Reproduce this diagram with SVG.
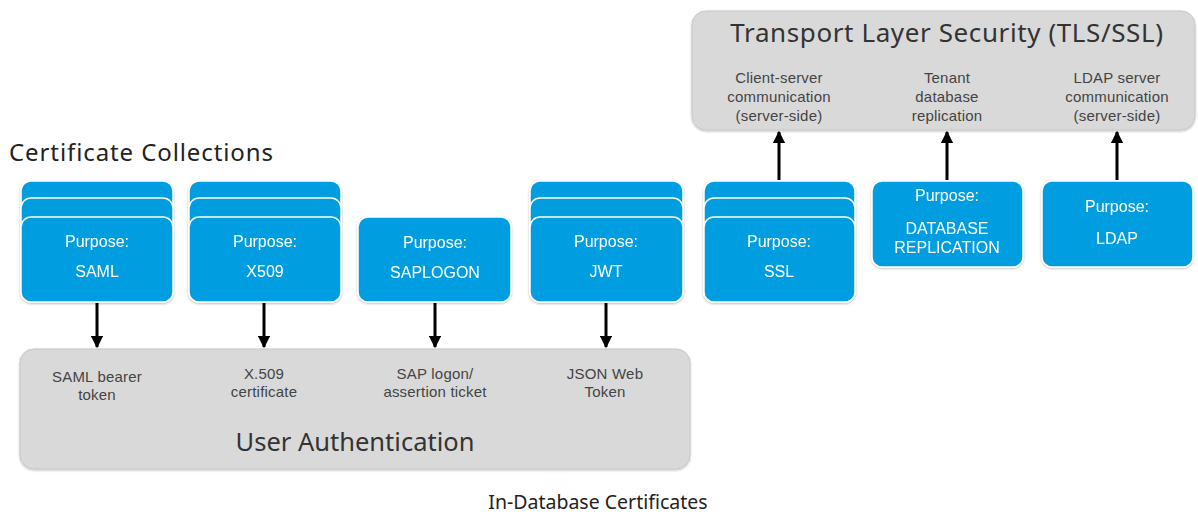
<svg xmlns="http://www.w3.org/2000/svg" width="1198" height="515" viewBox="0 0 1198 515">
<defs>
<marker id="ah" viewBox="0 0 10 10" refX="9" refY="5" markerWidth="4.2" markerHeight="4.2" orient="auto" markerUnits="strokeWidth">
<path d="M0,0 L10,5 L0,10 z" fill="#000"/>
</marker>
<filter id="sh" x="-10%" y="-10%" width="120%" height="125%">
<feDropShadow dx="0" dy="1" stdDeviation="1" flood-color="#000" flood-opacity="0.25"/>
</filter>
</defs>
<style>
.grp{fill:#d9d9d9;stroke:#c6c6c6;stroke-width:1}
.blue{fill:#009de0;stroke:#ffffff;stroke-width:1.5}
.bt{font-family:"Liberation Sans",Arial,sans-serif;font-size:16px;fill:#ffffff;text-anchor:middle}
.gt{font-family:"Liberation Sans",Arial,sans-serif;font-size:15px;fill:#444;text-anchor:middle;letter-spacing:0.2px}
.big{font-family:"Noto Sans","Liberation Sans",sans-serif;fill:#333;text-anchor:middle}
.cap{font-family:"Noto Sans","Liberation Sans",sans-serif;fill:#222}
.conn{stroke:#000;stroke-width:3;fill:none}
</style>

<g id="tls">
<rect class="grp" x="692" y="11" width="503" height="119" rx="14" filter="url(#sh)"/>
<text class="big" x="947" y="42" font-size="26" letter-spacing="0.6">Transport Layer Security (TLS/SSL)</text>
<text class="gt" x="779" y="83">Client-server</text>
<text class="gt" x="779" y="102">communication</text>
<text class="gt" x="779" y="121">(server-side)</text>
<text class="gt" x="947" y="83">Tenant</text>
<text class="gt" x="947" y="102">database</text>
<text class="gt" x="947" y="121">replication</text>
<text class="gt" x="1117" y="83">LDAP server</text>
<text class="gt" x="1117" y="102">communication</text>
<text class="gt" x="1117" y="121">(server-side)</text>
</g>

<g id="userauth">
<rect class="grp" x="20" y="349" width="670" height="120" rx="14" filter="url(#sh)"/>
<text class="gt" x="97" y="382">SAML bearer</text>
<text class="gt" x="97" y="400">token</text>
<text class="gt" x="264" y="379">X.509</text>
<text class="gt" x="264" y="397">certificate</text>
<text class="gt" x="435" y="379">SAP logon/</text>
<text class="gt" x="435" y="397">assertion ticket</text>
<text class="gt" x="605" y="379">JSON Web</text>
<text class="gt" x="605" y="397">Token</text>
<text class="big" x="355" y="451" font-size="25.5">User Authentication</text>
</g>

<text id="title-collections" class="cap" x="9" y="161" font-size="24" letter-spacing="0.9">Certificate Collections</text>
<text id="caption" class="cap" x="598" y="509" font-size="19.5" text-anchor="middle">In-Database Certificates</text>

<g id="saml" filter="url(#sh)">
<rect class="blue" x="21" y="181" width="152" height="121" rx="10"/>
<rect class="blue" x="21" y="198" width="152" height="104" rx="10"/>
<rect class="blue" x="21" y="217" width="152" height="85" rx="10"/>
<text class="bt" x="97" y="247">Purpose:</text>
<text class="bt" x="97" y="277">SAML</text>
</g>

<g id="x509" filter="url(#sh)">
<rect class="blue" x="189" y="181" width="152" height="121" rx="10"/>
<rect class="blue" x="189" y="198" width="152" height="104" rx="10"/>
<rect class="blue" x="189" y="217" width="152" height="85" rx="10"/>
<text class="bt" x="265" y="247">Purpose:</text>
<text class="bt" x="265" y="277">X509</text>
</g>

<g id="saplogon" filter="url(#sh)">
<rect class="blue" x="358" y="217" width="153" height="85" rx="10"/>
<text class="bt" x="435" y="248">Purpose:</text>
<text class="bt" x="435" y="278">SAPLOGON</text>
</g>

<g id="jwt" filter="url(#sh)">
<rect class="blue" x="530" y="181" width="153" height="121" rx="10"/>
<rect class="blue" x="530" y="198" width="153" height="104" rx="10"/>
<rect class="blue" x="530" y="217" width="153" height="85" rx="10"/>
<text class="bt" x="606" y="247">Purpose:</text>
<text class="bt" x="606" y="277">JWT</text>
</g>

<g id="ssl" filter="url(#sh)">
<rect class="blue" x="704" y="181" width="151" height="121" rx="10"/>
<rect class="blue" x="704" y="198" width="151" height="104" rx="10"/>
<rect class="blue" x="704" y="217" width="151" height="85" rx="10"/>
<text class="bt" x="779" y="247">Purpose:</text>
<text class="bt" x="779" y="277">SSL</text>
</g>

<g id="dbrepl" filter="url(#sh)">
<rect class="blue" x="872" y="181" width="151" height="86" rx="10"/>
<text class="bt" x="947" y="201">Purpose:</text>
<text class="bt" x="947" y="234">DATABASE</text>
<text class="bt" x="947" y="253">REPLICATION</text>
</g>

<g id="ldap" filter="url(#sh)">
<rect class="blue" x="1042" y="181" width="151" height="86" rx="10"/>
<text class="bt" x="1117" y="212">Purpose:</text>
<text class="bt" x="1117" y="244">LDAP</text>
</g>

<g id="connectors">
<line class="conn" x1="97" y1="303" x2="97" y2="347" marker-end="url(#ah)"/>
<line class="conn" x1="264" y1="303" x2="264" y2="347" marker-end="url(#ah)"/>
<line class="conn" x1="435" y1="303" x2="435" y2="347" marker-end="url(#ah)"/>
<line class="conn" x1="606" y1="303" x2="606" y2="347" marker-end="url(#ah)"/>
<line class="conn" x1="779" y1="180" x2="779" y2="132" marker-end="url(#ah)"/>
<line class="conn" x1="947" y1="180" x2="947" y2="132" marker-end="url(#ah)"/>
<line class="conn" x1="1117" y1="180" x2="1117" y2="132" marker-end="url(#ah)"/>
</g>
</svg>
